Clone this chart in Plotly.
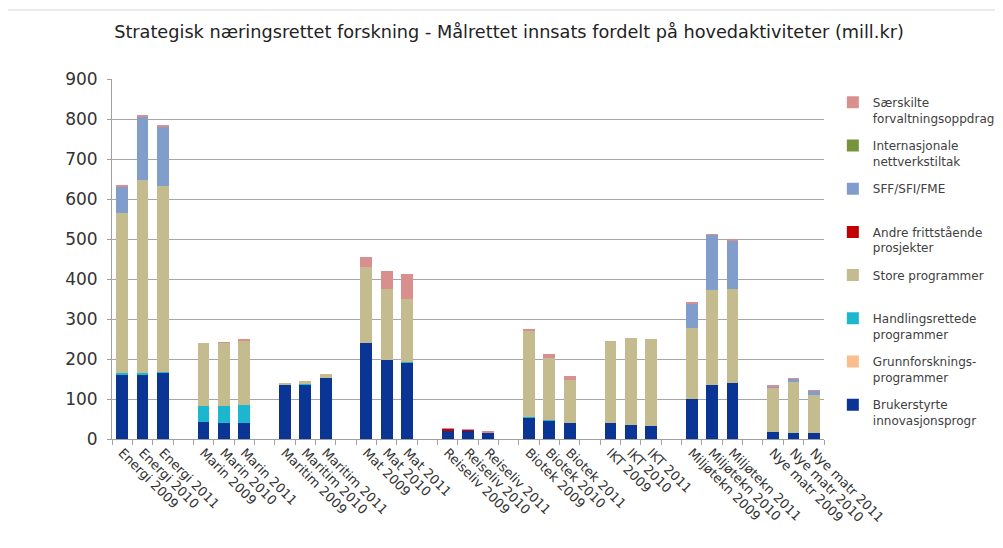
import plotly.graph_objects as go

groups = ["Energi", "Marin", "Maritim", "Mat", "Reiseliv", "Biotek", "IKT", "Miljøtekn", "Nye matr"]
years = ["2009", "2010", "2011"]

brukerstyrte = [162, 162, 166, 42, 40, 40, 135, 135, 152, 239, 197, 190, 22, 20, 15, 54, 47, 41, 39, 35, 32, 100, 134, 141, 18, 16, 14]
grunnforskning = [0, 0, 0, 0, 0, 0, 0, 0, 0, 0, 0, 0, 0, 0, 0, 0, 0, 0, 0, 0, 0, 0, 0, 0, 0, 0, 0]
handlingsrettede = [2, 2, 2, 41, 43, 45, 0, 2, 0, 0, 0, 2, 0, 0, 0, 2, 1, 0, 0, 0, 0, 0, 0, 0, 0, 0, 0]
store_programmer = [402, 483, 465, 157, 157, 162, 6, 8, 10, 192, 177, 159, 0, 0, 0, 215, 155, 106, 206, 217, 218, 177, 238, 233, 110, 126, 96]
andre_frittstaende = [0, 0, 0, 0, 0, 0, 0, 0, 0, 0, 0, 0, 4, 4, 0, 0, 0, 0, 0, 0, 0, 0, 0, 0, 0, 0, 0]
sff_sfi_fme = [66, 159, 149, 0, 0, 0, 0, 0, 0, 0, 0, 0, 0, 0, 0, 0, 0, 0, 0, 0, 0, 62, 138, 123, 4, 8, 10]
internasjonale = [0, 0, 0, 0, 0, 0, 0, 0, 0, 0, 0, 0, 0, 0, 0, 0, 0, 0, 0, 0, 0, 0, 0, 0, 0, 0, 0]
saerskilte = [2, 2, 2, 0, 1, 4, 0, 0, 0, 25, 46, 62, 1, 1, 4, 2, 9, 10, 0, 0, 0, 2, 1, 2, 1, 1, 1]

series = [
    ("Brukerstyrte<br>innovasjonsprogr", brukerstyrte, "#0B3594"),
    ("Grunnforsknings-<br>programmer", grunnforskning, "#F9BE8C"),
    ("Handlingsrettede<br>programmer", handlingsrettede, "#1DB6CF"),
    ("Store programmer<br>&nbsp;", store_programmer, "#C4BC8E"),
    ("Andre frittstående<br>prosjekter", andre_frittstaende, "#C00000"),
    ("SFF/SFI/FME<br>&nbsp;", sff_sfi_fme, "#809DCB"),
    ("Internasjonale<br>nettverkstiltak", internasjonale, "#77933C"),
    ("Særskilte<br>forvaltningsoppdrag", saerskilte, "#DA8F8F"),
]

# category axis with blank separators between groups
cats = []
bar_cats = []
for gi, g in enumerate(groups):
    for y in years:
        name = f"{g} {y}"
        cats.append(name)
        bar_cats.append(name)
    if gi < len(groups) - 1:
        cats.append(" " * (gi + 1))

fig = go.Figure()
n = len(series)
for i, (name, vals, color) in enumerate(series):
    fig.add_trace(go.Bar(
        x=bar_cats, y=vals, name=name, marker_color=color,
        marker_line_width=0, legendgroup=name, legendrank=(n - i) * 10,
    ))

fig.update_layout(
    barmode="stack",
    bargap=0.42,
    width=1003, height=548,
    margin=dict(l=104, r=186, t=71, b=117),
    paper_bgcolor="white", plot_bgcolor="white",
    font=dict(family="DejaVu Sans", color="#333333"),
    title=dict(
        text="Strategisk næringsrettet forskning - Målrettet innsats fordelt på hovedaktiviteter (mill.kr)",
        x=0.4995, xanchor="center", y=0.956, yanchor="middle",
        font=dict(family="DejaVu Sans", size=17.7, color="#222222"),
    ),
    legend=dict(
        x=1.011, xanchor="left", y=0.975, yanchor="top",
        traceorder="grouped", tracegroupgap=9, valign="top",
        font=dict(family="DejaVu Sans", size=12, color="#404040"),
        itemwidth=30, bgcolor="rgba(0,0,0,0)",
    ),
    xaxis=dict(
        type="category", categoryorder="array", categoryarray=cats,
        range=[-0.5, len(cats) - 0.5],
        tickson="boundaries", ticks="outside", ticklen=5, tickcolor="#A0A0A0",
        tickangle=45, tickfont=dict(size=13, color="#333333"),
        showline=True, linecolor="#A0A0A0", linewidth=1,
        showgrid=False, fixedrange=True,
    ),
    yaxis=dict(
        range=[0, 900], dtick=100,
        tickfont=dict(size=17, color="#333333"),
        ticks="outside", ticklen=4, tickcolor="#A0A0A0",
        ticklabelstandoff=6,
        showline=True, linecolor="#A0A0A0", linewidth=1,
        gridcolor="#A6A6A6", gridwidth=1, zeroline=False,
    ),
    showlegend=True,
)

fig.add_shape(type="line", xref="paper", yref="paper",
              x0=-0.16, x1=1.25, y0=1.1917, y1=1.1917,
              line=dict(color="#D9D9D9", width=1))

fig.write_html("out.html")
